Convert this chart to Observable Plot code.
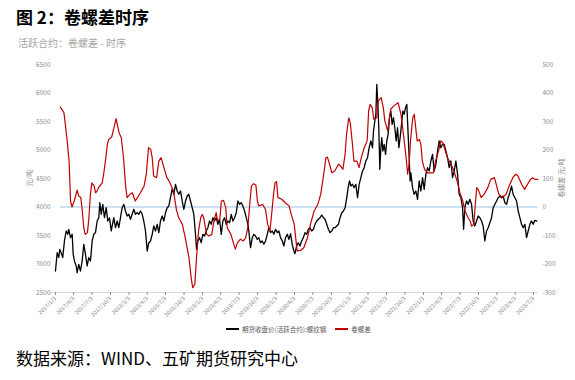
<!DOCTYPE html>
<html>
<head>
<meta charset="utf-8">
<script src="https://cdn.jsdelivr.net/npm/d3@7"></script>
<script src="https://cdn.jsdelivr.net/npm/@observablehq/plot@0.6"></script>
<style>
  html, body { margin: 0; padding: 0; background: #fff; }
  body { width: 575px; height: 380px; position: relative; overflow: hidden; font-family: "Noto Sans CJK SC", "Noto Sans", sans-serif; }
  .abs { position: absolute; white-space: nowrap; line-height: 1; }
  .rot { transform: translate(-50%, -50%) rotate(-90deg); }
  .leg { display: flex; align-items: center; gap: 3px; }
  .sw { width: 13px; height: 1.6px; display: inline-block; }
</style>
</head>
<body>
<div id="title" class="abs" style="left:16px;top:8px;font-size:17px;font-weight:bold;color:#000;"></div>
<div id="subtitle" class="abs" style="left:18px;top:38px;font-size:10px;color:#a6a6a6;"></div>
<div id="chart" class="abs" style="left:0;top:50px;"></div>
<div id="ylabL" class="abs rot" style="left:29px;top:178px;font-size:7px;color:#8c8c8c;"></div>
<div id="ylabR" class="abs rot" style="left:561px;top:178px;font-size:7px;color:#8c8c8c;"></div>
<div id="legend" class="abs" style="left:226px;top:326px;display:flex;gap:9px;font-size:6.5px;color:#595959;"></div>
<div id="source" class="abs" style="left:16px;top:349px;font-size:17px;color:#000;"></div>
<script>
// ---------- texts ----------
const titleText = "图 2：卷螺差时序";
const subtitleText = "活跃合约：卷螺差 - 时序";
const sourceText = "数据来源：WIND、五矿期货研究中心";
const leftAxisTitle = "元/吨";
const rightAxisTitle = "卷螺差 元/吨";
const seriesNames = ["期货收盘价(活跃合约):螺纹钢", "卷螺差"];
const seriesColors = ["#000000", "#c00000"];

// ---------- axes ----------
const xTickLabels = ["2017/1/3","2017/4/3","2017/7/3","2017/10/3","2018/1/3","2018/4/3","2018/7/3","2018/10/3",
  "2019/1/3","2019/4/3","2019/7/3","2019/10/3","2020/1/3","2020/4/3","2020/7/3","2020/10/3",
  "2021/1/3","2021/4/3","2021/7/3","2021/10/3","2022/1/3","2022/4/3","2022/7/3","2022/10/3",
  "2023/1/3","2023/4/3","2023/7/3"];
const leftTicks = [2500, 3000, 3500, 4000, 4500, 5000, 5500, 6000, 6500];
const rightTicks = [-300, -200, -100, 0, 100, 200, 300, 400, 500];

// ---------- black: futures close (decimal year, 元/吨) ----------
const blackDates = [
2017.005,2017.028,2017.050,2017.063,2017.083,2017.104,2017.127,2017.151,2017.172,2017.186,
2017.209,2017.232,2017.246,2017.263,2017.287,2017.300,2017.322,2017.345,2017.368,2017.390,
2017.413,2017.436,2017.458,2017.481,2017.504,2017.526,2017.549,2017.572,2017.594,2017.608,
2017.627,2017.648,2017.671,2017.695,2017.716,2017.740,2017.763,2017.780,2017.798,2017.821,
2017.844,2017.866,2017.889,2017.912,2017.934,2017.957,2017.980,2018.002,2018.025,2018.048,
2018.070,2018.093,2018.116,2018.138,2018.161,2018.184,2018.206,2018.229,2018.252,2018.274,
2018.297,2018.320,2018.342,2018.365,2018.388,2018.410,2018.433,2018.456,2018.478,2018.501,
2018.524,2018.546,2018.569,2018.592,2018.614,2018.637,2018.660,2018.682,2018.705,2018.728,
2018.750,2018.773,2018.796,2018.818,2018.841,2018.864,2018.886,2018.909,2018.923,2018.941,
2018.964,2018.987,2019.009,2019.032,2019.055,2019.077,2019.100,2019.123,2019.145,2019.168,
2019.191,2019.213,2019.236,2019.259,2019.281,2019.304,2019.327,2019.349,2019.372,2019.395,
2019.417,2019.440,2019.463,2019.485,2019.508,2019.531,2019.553,2019.576,2019.599,2019.621,
2019.634,2019.657,2019.681,2019.702,2019.725,2019.749,2019.770,2019.793,2019.816,2019.838,
2019.861,2019.885,2019.906,2019.929,2019.953,2019.974,2019.997,2020.021,2020.042,2020.065,
2020.089,2020.110,2020.133,2020.157,2020.178,2020.201,2020.225,2020.246,2020.260,2020.283,
2020.306,2020.328,2020.351,2020.374,2020.396,2020.419,2020.442,2020.464,2020.487,2020.510,
2020.532,2020.555,2020.578,2020.600,2020.623,2020.646,2020.668,2020.691,2020.714,2020.736,
2020.759,2020.782,2020.804,2020.827,2020.850,2020.872,2020.895,2020.918,2020.940,2020.963,
2020.981,2021.000,2021.018,2021.041,2021.062,2021.086,2021.109,2021.131,2021.154,2021.177,
2021.199,2021.222,2021.245,2021.267,2021.290,2021.313,2021.326,2021.344,2021.358,2021.371,
2021.385,2021.398,2021.412,2021.426,2021.439,2021.453,2021.471,2021.490,2021.507,2021.525,
2021.544,2021.562,2021.579,2021.598,2021.616,2021.634,2021.653,2021.671,2021.688,2021.707,
2021.725,2021.743,2021.762,2021.779,2021.793,2021.811,2021.824,2021.834,2021.857,2021.879,
2021.902,2021.925,2021.947,2021.970,2021.993,2022.015,2022.038,2022.061,2022.083,2022.106,
2022.129,2022.151,2022.174,2022.197,2022.219,2022.242,2022.265,2022.287,2022.310,2022.333,
2022.355,2022.378,2022.401,2022.423,2022.446,2022.469,2022.491,2022.514,2022.537,2022.551,
2022.568,2022.591,2022.613,2022.636,2022.659,2022.681,2022.704,2022.727,2022.749,2022.772,
2022.795,2022.817,2022.840,2022.863,2022.885,2022.908,2022.931,2022.953,2022.976,2022.999,
2023.021,2023.044,2023.067,2023.089,2023.112,2023.135,2023.157,2023.180,2023.203,2023.225,
2023.248,2023.271,2023.293,2023.316,2023.339,2023.361,2023.384,2023.407,2023.429,2023.452,
2023.475,2023.497,2023.520,2023.548];
const blackValues = [
2877,3198,3111,3258,3198,3111,3404,3579,3521,3609,
3462,3521,3170,3053,2965,2848,2995,2877,3053,3346,
3170,2965,3111,3053,3404,3521,3550,3754,3812,4075,
3872,4047,3812,3988,3754,3812,3579,3696,3812,3637,
3754,3637,3812,3988,4047,3930,3842,3872,3784,3872,
3960,3872,3900,3872,3930,3872,3754,3579,3228,3374,
3404,3521,3667,3579,3696,3550,3754,3842,3754,3900,
3988,4018,4163,4320,4223,4398,4281,4223,4281,4105,
3960,4105,4193,4223,4105,3988,3872,3521,3258,3404,
3462,3374,3521,3491,3579,3637,3754,3696,3812,3754,
3812,3696,3784,3521,3754,3812,3696,3754,3725,3872,
3754,3812,3900,4105,4047,4075,4018,3930,3812,3696,
3579,3286,3462,3521,3491,3433,3462,3374,3404,3346,
3404,3521,3637,3550,3579,3521,3609,3550,3579,3462,
3404,3316,3462,3521,3433,3530,3330,3228,3181,3316,
3374,3316,3404,3462,3550,3521,3609,3637,3579,3609,
3696,3754,3784,3812,3860,3812,3784,3696,3609,3550,
3579,3637,3637,3667,3696,3812,3900,3930,3988,4163,
4339,4456,4368,4398,4339,4398,4163,4398,4514,4631,
4690,4807,4865,5040,5158,5040,5333,5508,5626,6152,
5801,5391,4661,5040,5216,4982,5100,4924,5158,5275,
5566,5684,5450,5566,5391,5158,5391,5040,5216,5450,
5684,5626,5742,5801,5391,4865,4456,4600,4339,4223,
4281,4135,4456,4281,4514,4310,4573,4690,4631,4807,
4924,4631,4749,4982,5158,5040,5100,5100,4982,4865,
4690,4807,4514,4631,4807,4573,4223,4163,3988,3609,
3988,4105,4047,4135,4047,3754,3667,3754,3842,3812,
3754,3667,3404,3579,3637,3725,3812,3988,4047,4105,
4163,4193,4163,4193,4075,4047,4163,4251,4368,4223,
4163,4105,3930,3812,3696,3637,3696,3462,3579,3696,
3754,3696,3766,3754];

// ---------- red: HRC - rebar spread (decimal year, 元/吨) ----------
const redDates = [
2017.07,2017.12,2017.16,2017.19,2017.21,2017.23,2017.26,2017.30,2017.32,2017.35,
2017.37,2017.39,2017.41,2017.44,2017.46,2017.48,2017.50,2017.53,2017.55,2017.57,
2017.59,2017.64,2017.66,2017.69,2017.71,2017.73,2017.77,2017.80,2017.83,2017.84,
2017.87,2017.90,2017.93,2017.96,2017.98,
2018.02,2018.05,2018.09,2018.12,2018.16,2018.21,2018.24,2018.27,2018.30,2018.32,
2018.34,2018.38,2018.41,2018.44,2018.48,2018.52,2018.55,2018.58,2018.61,2018.65,
2018.68,2018.73,2018.77,2018.82,2018.85,2018.87,2018.90,2018.92,2018.95,2018.98,
2019.00,2019.02,2019.06,2019.09,2019.13,2019.16,2019.19,2019.21,2019.24,2019.26,
2019.29,2019.32,2019.34,2019.39,2019.43,2019.45,2019.48,2019.52,2019.56,2019.59,
2019.62,2019.65,2019.67,2019.70,2019.73,2019.75,2019.77,2019.82,2019.86,2019.89,
2019.92,2019.94,2019.97,2019.99,
2020.01,2020.03,2020.08,2020.13,2020.18,2020.21,2020.25,2020.29,2020.34,2020.38,
2020.43,2020.47,2020.52,2020.57,2020.61,2020.65,2020.68,2020.70,2020.73,2020.76,
2020.80,2020.85,2020.88,2020.91,2020.94,2020.96,2020.99,
2021.01,2021.04,2021.06,2021.10,2021.13,2021.16,2021.20,2021.24,2021.26,2021.28,
2021.31,2021.33,2021.37,2021.39,2021.43,2021.46,2021.48,2021.52,2021.54,2021.56,
2021.60,2021.63,2021.66,2021.70,2021.73,2021.77,2021.79,2021.81,2021.83,2021.86,
2021.88,2021.90,2021.92,2021.95,2021.97,2021.99,
2022.02,2022.06,2022.11,2022.14,2022.17,2022.21,2022.24,2022.27,2022.29,2022.33,
2022.38,2022.42,2022.47,2022.50,2022.54,2022.57,2022.61,2022.64,2022.66,2022.69,
2022.71,2022.73,2022.75,2022.79,2022.83,2022.88,2022.92,2022.97,
2023.00,2023.03,2023.08,2023.13,2023.17,2023.22,2023.26,2023.29,2023.34,2023.38,
2023.42,2023.46,2023.49,2023.52,2023.56];
const redValues = [
351,331,243,161,21,0,21,59,39,33,
-14,-73,-96,-90,-37,45,85,74,50,56,
68,85,115,173,220,237,246,278,310,296,
261,243,173,68,33,
45,50,21,33,50,74,115,208,202,173,
109,103,161,173,138,103,91,74,55,-10,
-37,-61,-108,-178,-248,-283,-271,-189,-84,-37,
-26,-37,-96,-102,-96,-49,-20,-49,-43,21,
23,-2,-73,-96,-131,-148,-125,-113,-119,-108,
-73,21,74,82,77,21,4,9,-8,-61,
-84,-37,45,85,
89,33,27,15,4,-26,-60,-154,-152,-143,
-108,-61,-14,9,45,115,173,175,150,120,
126,150,144,132,185,255,313,
296,220,161,161,138,173,208,232,337,360,
348,308,313,372,384,348,302,267,308,343,
354,360,366,325,261,173,115,150,235,313,
325,278,232,237,220,161,
132,120,120,120,161,196,232,226,208,173,
150,126,85,50,21,-14,-37,-49,-67,-61,
9,68,62,33,45,68,97,103,
74,45,33,45,74,103,115,109,80,62,
80,97,103,97,97];

// ---------- helpers ----------
function decYear(t) {
  const y = Math.floor(t);
  const a = Date.UTC(y, 0, 1), b = Date.UTC(y + 1, 0, 1);
  return new Date(a + (t - y) * (b - a));
}
function parseSlash(s) {
  const [y, m, d] = s.split("/").map(Number);
  return new Date(Date.UTC(y, m - 1, d));
}
// the right axis (spread) shares the left axis frame: 0 ↔ 4000, 100 ↔ 500
const rightToLeft = v => 4000 + v * 5;
const leftToRight = v => (v - 4000) / 5;

const nB = Math.min(blackDates.length, blackValues.length);
const black = d3.range(nB).map(i => ({date: decYear(blackDates[i]), v: blackValues[i]}));
const nR = Math.min(redDates.length, redValues.length);
const red = d3.range(nR).map(i => ({date: decYear(redDates[i]), v: redValues[i]}));

const tickDates = xTickLabels.map(parseSlash);
const labelByTime = new Map(tickDates.map((d, i) => [+d, xTickLabels[i]]));

const zeroLine = [{y: rightToLeft(0), x1: red[0].date, x2: red[red.length - 1].date}];
const baseLine = [{y: leftTicks[0], x1: decYear(2016.93), x2: decYear(2023.56)}];

const grey = "#8c8c8c";
const chart = Plot.plot({
  width: 575,
  height: 270,
  marginLeft: 55,
  marginRight: 42,
  marginTop: 14,
  marginBottom: 28,
  style: {fontFamily: "'Noto Sans CJK SC', 'Noto Sans', sans-serif", background: "transparent", overflow: "visible"},
  x: {type: "utc", domain: [tickDates[0], tickDates[tickDates.length - 1]], axis: null},
  y: {domain: [leftTicks[0], leftTicks[leftTicks.length - 1]], axis: null},
  marks: [
    Plot.ruleY(baseLine, {y: "y", x1: "x1", x2: "x2", stroke: "#d9d9d9", strokeWidth: 1}),
    Plot.axisX({ticks: tickDates, tickFormat: d => labelByTime.get(+d), tickRotate: -45,
      tickSize: 3, tickPadding: 2, fontSize: 5.6, color: grey, label: null}),
    Plot.axisY({anchor: "left", ticks: leftTicks, tickFormat: d => String(d), tickSize: 0,
      tickPadding: 5, fontSize: 6.5, color: grey, label: null}),
    Plot.axisY({anchor: "right", ticks: leftTicks, tickFormat: d => String(leftToRight(d)), tickSize: 0,
      tickPadding: 9, fontSize: 6.5, color: grey, label: null}),
    Plot.ruleY(zeroLine, {y: "y", x1: "x1", x2: "x2", stroke: "#bdd7ee", strokeWidth: 1.5}),
    Plot.line(black, {x: "date", y: "v", stroke: seriesColors[0], strokeWidth: 1.3}),
    Plot.line(red, {x: "date", y: d => rightToLeft(d.v), stroke: seriesColors[1], strokeWidth: 1.2})
  ]
});
document.getElementById("chart").appendChild(chart);

document.getElementById("title").textContent = titleText;
document.getElementById("subtitle").textContent = subtitleText;
document.getElementById("source").textContent = sourceText;
document.getElementById("ylabL").textContent = leftAxisTitle;
document.getElementById("ylabR").textContent = rightAxisTitle;
const legend = document.getElementById("legend");
seriesNames.forEach((name, i) => {
  const item = document.createElement("div");
  item.className = "leg";
  const sw = document.createElement("span");
  sw.className = "sw";
  sw.style.background = seriesColors[i];
  const tx = document.createElement("span");
  tx.textContent = name;
  item.appendChild(sw);
  item.appendChild(tx);
  legend.appendChild(item);
});
</script>
</body>
</html>
